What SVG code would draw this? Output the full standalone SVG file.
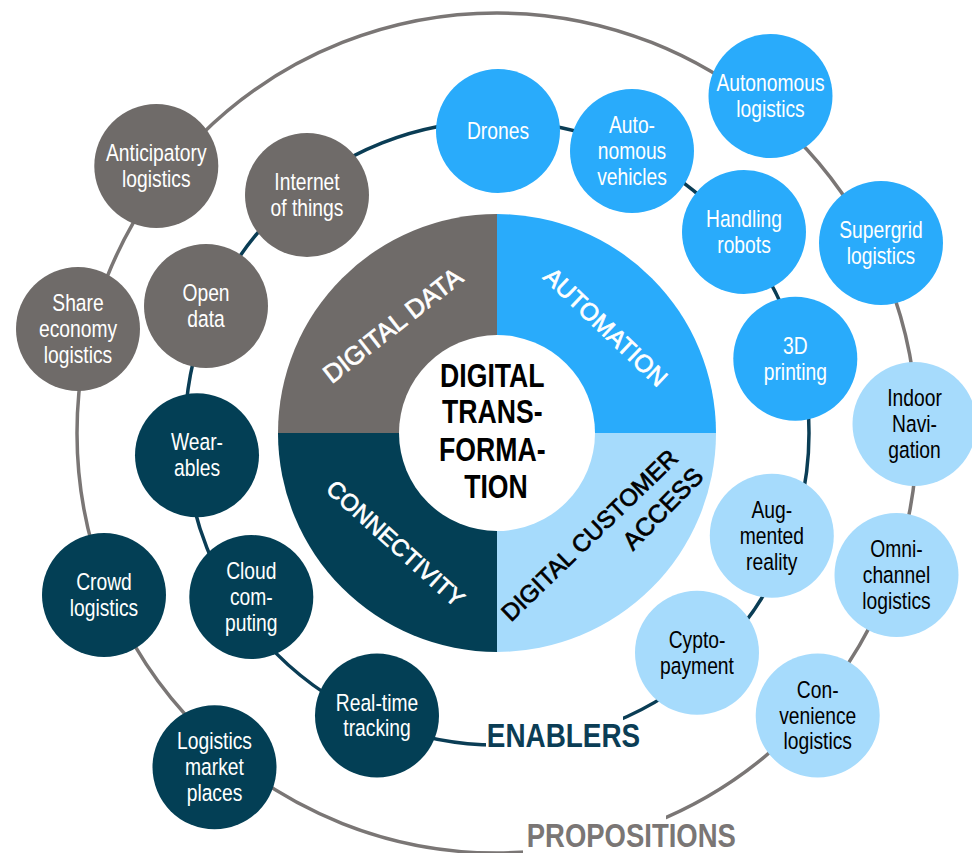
<svg xmlns="http://www.w3.org/2000/svg" width="972" height="853" viewBox="0 0 972 853">
  <style>
    .gray { fill: #6f6b69; }
    .blue { fill: #29abfb; }
    .lblue { fill: #a6dbfc; }
    .teal { fill: #033f55; }
    .ring { fill: none; stroke-width: 3.5; }
    .t { font-family: "Liberation Sans", Arial, sans-serif; font-size: 23.5px; text-anchor: middle; }
    .w { fill: #ffffff; }
    .k { fill: #000000; }
    .q { font-family: "Liberation Sans", Arial, sans-serif; text-anchor: middle; stroke-width: 0.7; }
    .qw { fill: #ffffff; stroke: #ffffff; }
    .qk { fill: #000000; stroke: #000000; }
    .b { font-family: "Liberation Sans", Arial, sans-serif; font-weight: bold; text-anchor: middle; }
  </style>

  <rect width="972" height="853" fill="#ffffff"/>

  <!-- connectors: the two orbit rings -->
  <g id="connectors">
    <circle class="ring" cx="497" cy="433" r="420" stroke="#7a7675"/>
    <circle class="ring" cx="497" cy="433" r="312" stroke="#0a3d55"/>
    <!-- gaps in the rings behind the ring titles -->
    <rect x="486" y="709" width="137" height="46" fill="#ffffff"/>
    <rect x="523" y="812" width="143" height="41" fill="#ffffff"/>
  </g>

  <!-- core donut -->
  <g id="core">
    <path class="gray" d="M278 433 A219 219 0 0 1 497 214 L497 433 Z"/>
    <path class="blue" d="M497 214 A219 219 0 0 1 716 433 L497 433 Z"/>
    <path class="lblue" d="M716 433 A219 219 0 0 1 497 652 L497 433 Z"/>
    <path class="teal" d="M497 652 A219 219 0 0 1 278 433 L497 433 Z"/>
    <circle cx="497" cy="433" r="98" fill="#ffffff"/>

    <text class="q qw" font-size="25.7" transform="translate(392.5 325) rotate(-38)" y="9.2">DIGITAL DATA</text>
    <text class="q qw" font-size="24.3" transform="translate(605.8 326.7) rotate(43.6)" y="8.7">AUTOMATION</text>
    <text class="q qw" font-size="23.6" transform="translate(395.8 543.3) rotate(42)" y="8.5">CONNECTIVITY</text>
    <text class="q qk" font-size="24" transform="translate(589.2 535) rotate(-44)" y="8.6">DIGITAL CUSTOMER</text>
    <text class="q qk" font-size="25" transform="translate(662.5 508.3) rotate(-45.8)" y="9">ACCESS</text>

    <g transform="translate(496 0)">
      <text class="b k" font-size="32.5" transform="scale(0.82 1)">
        <tspan x="0" y="386.7">DIGITAL</tspan>
        <tspan x="0" y="423.3">TRANS-</tspan>
        <tspan x="0" y="460.7">FORMA-</tspan>
        <tspan x="0" y="498.3">TION</tspan>
      </text>
    </g>
  </g>

  <!-- ring titles -->
  <g id="title-enablers" transform="translate(563.5 0)">
    <text class="b" font-size="34" fill="#0b3d55" transform="scale(0.82 1)" x="0" y="747">ENABLERS</text>
  </g>
  <g id="title-propositions" transform="translate(631.3 0)">
    <text class="b" font-size="33.5" fill="#7a7675" transform="scale(0.82 1)" x="0" y="847">PROPOSITIONS</text>
  </g>

  <!-- digital data nodes -->
  <g id="anticipatory-logistics" transform="translate(156.3 166)">
    <circle r="62" class="gray"/>
    <text class="t w" transform="scale(0.82 1)"><tspan x="0" y="-5">Anticipatory</tspan><tspan x="0" y="21">logistics</tspan></text>
  </g>
  <g id="share-economy-logistics" transform="translate(78 329)">
    <circle r="62" class="gray"/>
    <text class="t w" transform="scale(0.82 1)"><tspan x="0" y="-18">Share</tspan><tspan x="0" y="8">economy</tspan><tspan x="0" y="34">logistics</tspan></text>
  </g>
  <g id="internet-of-things" transform="translate(307 195)">
    <circle r="62" class="gray"/>
    <text class="t w" transform="scale(0.82 1)"><tspan x="0" y="-5">Internet</tspan><tspan x="0" y="21">of things</tspan></text>
  </g>
  <g id="open-data" transform="translate(206 306)">
    <circle r="62" class="gray"/>
    <text class="t w" transform="scale(0.82 1)"><tspan x="0" y="-5">Open</tspan><tspan x="0" y="21">data</tspan></text>
  </g>

  <!-- connectivity nodes -->
  <g id="wearables" transform="translate(197 455.3)">
    <circle r="62" class="teal"/>
    <text class="t w" transform="scale(0.82 1)"><tspan x="0" y="-5">Wear-</tspan><tspan x="0" y="21">ables</tspan></text>
  </g>
  <g id="cloud-computing" transform="translate(251.3 597)">
    <circle r="62" class="teal"/>
    <text class="t w" transform="scale(0.82 1)"><tspan x="0" y="-18">Cloud</tspan><tspan x="0" y="8">com-</tspan><tspan x="0" y="34">puting</tspan></text>
  </g>
  <g id="real-time-tracking" transform="translate(377 715.5)">
    <circle r="62" class="teal"/>
    <text class="t w" transform="scale(0.82 1)"><tspan x="0" y="-5">Real-time</tspan><tspan x="0" y="21">tracking</tspan></text>
  </g>
  <g id="crowd-logistics" transform="translate(104 595)">
    <circle r="62" class="teal"/>
    <text class="t w" transform="scale(0.82 1)"><tspan x="0" y="-5">Crowd</tspan><tspan x="0" y="21">logistics</tspan></text>
  </g>
  <g id="logistics-market-places" transform="translate(214.5 767.3)">
    <circle r="62" class="teal"/>
    <text class="t w" transform="scale(0.82 1)"><tspan x="0" y="-18">Logistics</tspan><tspan x="0" y="8">market</tspan><tspan x="0" y="34">places</tspan></text>
  </g>

  <!-- automation nodes -->
  <g id="drones" transform="translate(498 131)">
    <circle r="62" class="blue"/>
    <text class="t w" transform="scale(0.82 1)"><tspan x="0" y="8">Drones</tspan></text>
  </g>
  <g id="autonomous-vehicles" transform="translate(632 151)">
    <circle r="62" class="blue"/>
    <text class="t w" transform="scale(0.82 1)"><tspan x="0" y="-18">Auto-</tspan><tspan x="0" y="8">nomous</tspan><tspan x="0" y="34">vehicles</tspan></text>
  </g>
  <g id="autonomous-logistics" transform="translate(770.5 96)">
    <circle r="62" class="blue"/>
    <text class="t w" transform="scale(0.82 1)"><tspan x="0" y="-5">Autonomous</tspan><tspan x="0" y="21">logistics</tspan></text>
  </g>
  <g id="handling-robots" transform="translate(744 232)">
    <circle r="62" class="blue"/>
    <text class="t w" transform="scale(0.82 1)"><tspan x="0" y="-5">Handling</tspan><tspan x="0" y="21">robots</tspan></text>
  </g>
  <g id="supergrid-logistics" transform="translate(881 243)">
    <circle r="62" class="blue"/>
    <text class="t w" transform="scale(0.82 1)"><tspan x="0" y="-5">Supergrid</tspan><tspan x="0" y="21">logistics</tspan></text>
  </g>
  <g id="3d-printing" transform="translate(795.3 358.7)">
    <circle r="62" class="blue"/>
    <text class="t w" transform="scale(0.82 1)"><tspan x="0" y="-5">3D</tspan><tspan x="0" y="21">printing</tspan></text>
  </g>

  <!-- digital customer access nodes -->
  <g id="indoor-navigation" transform="translate(914.5 424)">
    <circle r="62" class="lblue"/>
    <text class="t k" transform="scale(0.82 1)"><tspan x="0" y="-18">Indoor</tspan><tspan x="0" y="8">Navi-</tspan><tspan x="0" y="34">gation</tspan></text>
  </g>
  <g id="augmented-reality" transform="translate(771.8 535.8)">
    <circle r="62" class="lblue"/>
    <text class="t k" transform="scale(0.82 1)"><tspan x="0" y="-18">Aug-</tspan><tspan x="0" y="8">mented</tspan><tspan x="0" y="34">reality</tspan></text>
  </g>
  <g id="omni-channel-logistics" transform="translate(896.5 575)">
    <circle r="62" class="lblue"/>
    <text class="t k" transform="scale(0.82 1)"><tspan x="0" y="-18">Omni-</tspan><tspan x="0" y="8">channel</tspan><tspan x="0" y="34">logistics</tspan></text>
  </g>
  <g id="cypto-payment" transform="translate(697 652.8)">
    <circle r="62" class="lblue"/>
    <text class="t k" transform="scale(0.82 1)"><tspan x="0" y="-5">Cypto-</tspan><tspan x="0" y="21">payment</tspan></text>
  </g>
  <g id="convenience-logistics" transform="translate(817.7 715.5)">
    <circle r="62" class="lblue"/>
    <text class="t k" transform="scale(0.82 1)"><tspan x="0" y="-18">Con-</tspan><tspan x="0" y="8">venience</tspan><tspan x="0" y="34">logistics</tspan></text>
  </g>
</svg>
